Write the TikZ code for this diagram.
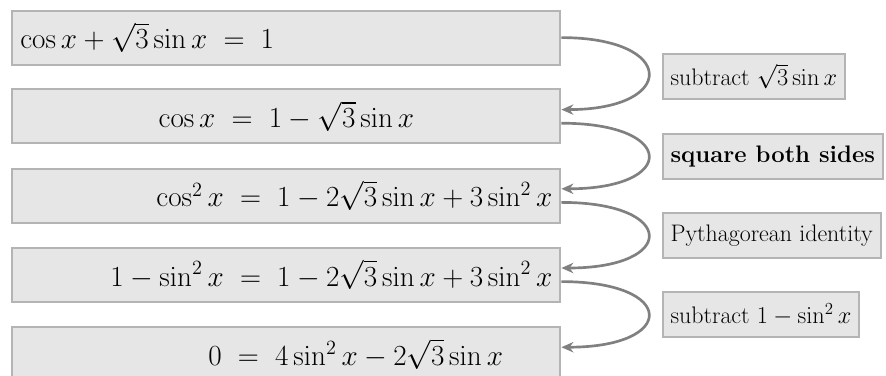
\documentclass[tikz,border=0pt]{standalone}
\usepackage{amsmath,amssymb}
\usepackage{xcolor}
\usepackage{tikz}
\usetikzlibrary{arrows.meta, positioning, calc}
\definecolor{boxgray}{RGB}{230,230,230}
\definecolor{edgegray}{RGB}{180,180,180}
\definecolor{linkgray}{RGB}{128,128,128}

\begin{document}
\begin{tikzpicture}[
    eqbox/.style={rectangle, draw=edgegray, fill=boxgray, line width=1.4pt, minimum width=13.7cm, minimum height=1.35cm, text width=13.3cm, inner xsep=0.2cm, font=\fontsize{21}{25}\selectfont},
    note/.style={rectangle, draw=edgegray, fill=boxgray, line width=1.4pt, minimum height=1.12cm, inner xsep=0.2cm, anchor=west, font=\fontsize{17}{20}\selectfont},
    link/.style={-{Stealth[length=0.3cm, width=0.26cm]}, line width=1.9pt, linkgray}
]
\useasboundingbox (0,0) rectangle (22.15,-9.375);

% Equation chain
\node[eqbox, align=flush left] (eq1) at (7.16,-0.94) {$\cos x + \sqrt{3}\sin x \;=\; 1$};
\node[eqbox, align=flush center] (eq2) at (7.16,-2.91) {$\cos x \;=\; 1 - \sqrt{3}\sin x$};
\node[eqbox, align=flush right] (eq3) at (7.16,-4.89) {$\cos^2 x \;=\; 1 - 2\sqrt{3}\sin x + 3\sin^2 x$};
\node[eqbox, align=flush right] (eq4) at (7.16,-6.87) {$1 - \sin^2 x \;=\; 1 - 2\sqrt{3}\sin x + 3\sin^2 x$};
\node[eqbox, align=flush left] (eq5) at (7.16,-8.85) {\hspace*{4.7cm}$0 \;=\; 4\sin^2 x - 2\sqrt{3}\sin x$};

% Step labels
\node[note] (op1) at (16.54,-1.91) {subtract $\sqrt{3}\sin x$};
\node[note] (op2) at (16.54,-3.91) {\textbf{square both sides}};
\node[note] (op3) at (16.54,-5.89) {Pythagorean identity};
\node[note] (op4) at (16.54,-7.87) {subtract $1 - \sin^2 x$};

% Arrows
\draw[link] (eq1.east) .. controls +(2.9,0) and +(2.9,0) .. ([yshift=0.17cm]eq2.east);
\draw[link] ([yshift=-0.17cm]eq2.east) .. controls +(2.9,0) and +(2.9,0) .. ([yshift=0.17cm]eq3.east);
\draw[link] ([yshift=-0.17cm]eq3.east) .. controls +(2.9,0) and +(2.9,0) .. ([yshift=0.17cm]eq4.east);
\draw[link] ([yshift=-0.17cm]eq4.east) .. controls +(2.9,0) and +(2.9,0) .. ([yshift=0.17cm]eq5.east);
\end{tikzpicture}
\end{document}
